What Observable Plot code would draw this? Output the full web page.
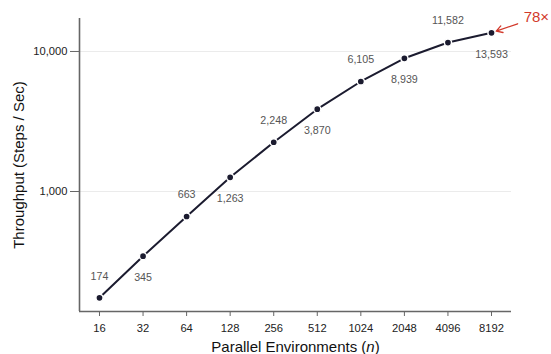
<!DOCTYPE html>
<html>
<head>
<meta charset="utf-8">
<script src="https://cdn.jsdelivr.net/npm/d3@7"></script>
<script src="https://cdn.jsdelivr.net/npm/@observablehq/plot@0.6"></script>
<style>
  html, body { margin: 0; padding: 0; background: #fff; }
</style>
</head>
<body>
<div id="chart"></div>
<script>
const envs = [16, 32, 64, 128, 256, 512, 1024, 2048, 4096, 8192];
const throughput = [174, 345, 663, 1263, 2248, 3870, 6105, 8939, 11582, 13593];
const yTicks = [1000, 10000];
const xLabel = "Parallel Environments (n)";
const yLabel = "Throughput (Steps / Sec)";

const data = envs.map((n, i) => ({ n, v: throughput[i], above: i % 2 === 0 }));
const pad = 0.459;
const xDomain = [envs[0] * 2 ** -pad, envs[envs.length - 1] * 2 ** pad];
const yDomain = [139, 17200];
const last = data[data.length - 1];
const speedup = Math.round(last.v / data[0].v) + "×";
const fmt = d3.format(",");
const red = "#d2392b";
const ink = "#1b1b2f";

const chart = Plot.plot({
  width: 551,
  height: 354,
  marginLeft: 79,
  marginRight: 40,
  marginTop: 18,
  marginBottom: 43,
  style: { fontFamily: "'Liberation Sans', Arial, Helvetica, sans-serif", fontSize: "11.2px", background: "#fff", overflow: "visible" },
  x: { type: "log", base: 2, domain: xDomain },
  y: { type: "log", domain: yDomain },
  marks: [
    Plot.gridY(yTicks, { stroke: "#ebebeb", strokeOpacity: 1, strokeWidth: 1 }),
    Plot.axisX({ ticks: envs, tickFormat: d => String(d), tickSize: 5, tickPadding: 7.5, fontSize: 11.2, fill: "#222", stroke: "#666", label: null }),
    Plot.axisY({ ticks: yTicks, tickFormat: fmt, tickSize: 9, tickPadding: 3, fontSize: 11.2, fill: "#222", stroke: "#666", label: null }),
    Plot.ruleY([yDomain[0]], { stroke: "#666", strokeWidth: 1.6 }),
    Plot.ruleX([xDomain[0]], { stroke: "#666", strokeWidth: 1.6 }),
    Plot.line(data, { x: "n", y: "v", stroke: ink, strokeWidth: 2 }),
    Plot.dot(data, { x: "n", y: "v", r: 3.6, fill: ink, stroke: "#fff", strokeWidth: 1.5 }),
    Plot.text(data.filter(d => d.above), { x: "n", y: "v", text: d => fmt(d.v), dy: -21.5, fill: "#555", fontSize: 10.7 }),
    Plot.text(data.filter(d => !d.above), { x: "n", y: "v", text: d => fmt(d.v), dy: 21.5, fill: "#555", fontSize: 10.7 }),
    Plot.arrow([last], {
      x1: d => d.n * 2 ** 0.6, y1: d => d.v * 1.16,
      x2: "n", y2: "v",
      insetEnd: 5, bend: false, stroke: red, strokeWidth: 1.3, headLength: 8
    }),
    Plot.text([last], {
      x: d => d.n * 2 ** 0.6, y: d => d.v * 1.16,
      text: () => speedup, dx: 6, dy: -7, textAnchor: "start", lineAnchor: "middle", fill: red, fontSize: 15
    }),
    Plot.text([xLabel], { frameAnchor: "bottom", textAnchor: "middle", lineAnchor: "middle", dy: 35.5, fontSize: 15, fill: "#111", text: d => d }),
    Plot.text([yLabel], { frameAnchor: "left", textAnchor: "middle", lineAnchor: "middle", rotate: -90, dx: -60.5, fontSize: 15, fill: "#111", text: d => d })
  ]
});

// italic n in the x-axis title
d3.select(chart).selectAll("text").each(function () {
  if (this.textContent === xLabel) {
    const t = d3.select(this);
    t.text(null);
    t.append("tspan").text("Parallel Environments (");
    t.append("tspan").attr("font-style", "italic").text("n");
    t.append("tspan").text(")");
  }
});

document.getElementById("chart").appendChild(chart);
</script>
</body>
</html>
